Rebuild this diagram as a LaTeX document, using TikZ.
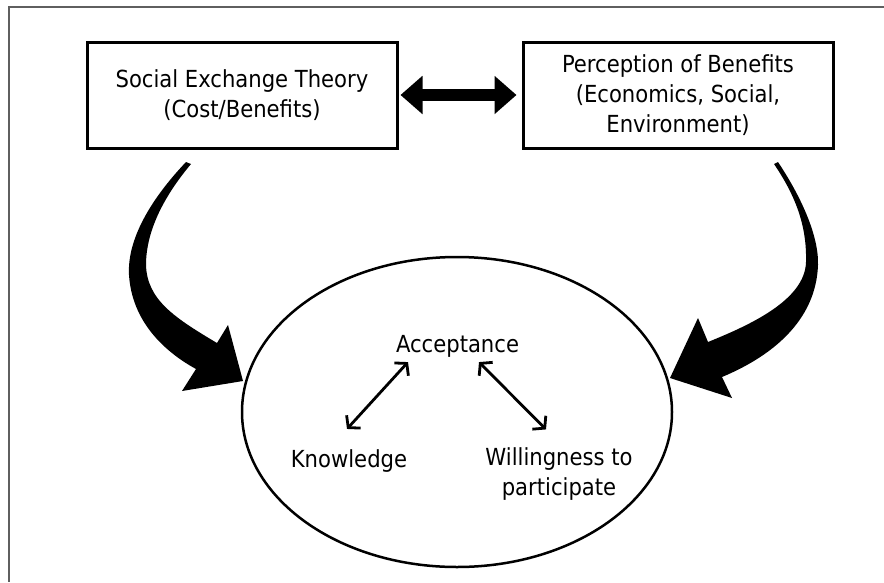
\documentclass[tikz,border=0pt]{standalone}
\usepackage{fontspec}
\setmainfont{DejaVu Sans Condensed}
\usetikzlibrary{shapes.geometric,arrows.meta}
\definecolor{framec}{RGB}{95,95,95}
\begin{document}
\begin{tikzpicture}[x=1pt,y=-1pt,
  txt/.style={font=\fontsize{23.5}{30}\selectfont, align=center, inner sep=0pt},
  bx/.style={txt, draw, line width=3pt, minimum width=310pt, minimum height=106pt},
  dbl/.style={line width=12pt, {Triangle[length=22pt,width=37pt]}-{Triangle[length=22pt,width=37pt]}},
  inarrow/.style={line width=2.8pt, {Straight Barb[length=8pt,width=19pt]}-{Straight Barb[length=8pt,width=19pt]}},
  bigarrow/.style={fill=black}]
\useasboundingbox (0,0) rectangle (884,582);
% frame
\draw[framec, line width=1.1pt] (884,7) -- (9,7) -- (9,582);
% boxes
\node[bx] (set) at (242,95) {Social Exchange Theory\\(Cost/Benefits)};
\node[bx] (pob) at (678,95) {Perception of Benefits\\(Economics, Social,\\Environment)};
\draw[dbl] ([xshift=2pt]set.east) -- ([xshift=-5pt]pob.west);
% ellipse
\node[ellipse, draw, line width=2.5pt, minimum width=430pt, minimum height=310pt, inner sep=0pt] (ell) at (457,412) {};
% inner labels
\node[txt, anchor=base] (acc) at (457.5,352) {Acceptance};
\node[txt, anchor=base] (know) at (349,467) {Knowledge};
\node[txt] (will) at (559,474) {Willingness to\\participate};
\draw[inarrow] ([shift={(-49.5,5)}]acc.south) -- ([shift={(-2,-20)}]know.north);
\draw[inarrow] ([shift={(21.5,5)}]acc.south) -- ([shift={(-13,-18)}]will.north);
% big curved arrows
\fill[bigarrow] (186,162) .. controls (150,200) and (127,240) .. (129,275)
  .. controls (132,322) and (165,352) .. (196,369) -- (182,391) -- (243,381) -- (228,325) -- (217,343)
  .. controls (175,318) and (147,300) .. (146,265)
  .. controls (146,230) and (165,195) .. (191,164) -- cycle;
\fill[bigarrow] (778,162) .. controls (800,195) and (819,235) .. (818,265)
  .. controls (816,322) and (770,357) .. (722,377) -- (732,398) -- (670,378) -- (698,318) -- (708,342)
  .. controls (750,325) and (805,300) .. (806,262)
  .. controls (807,225) and (795,195) .. (774,164) -- cycle;
\end{tikzpicture}
\end{document}
